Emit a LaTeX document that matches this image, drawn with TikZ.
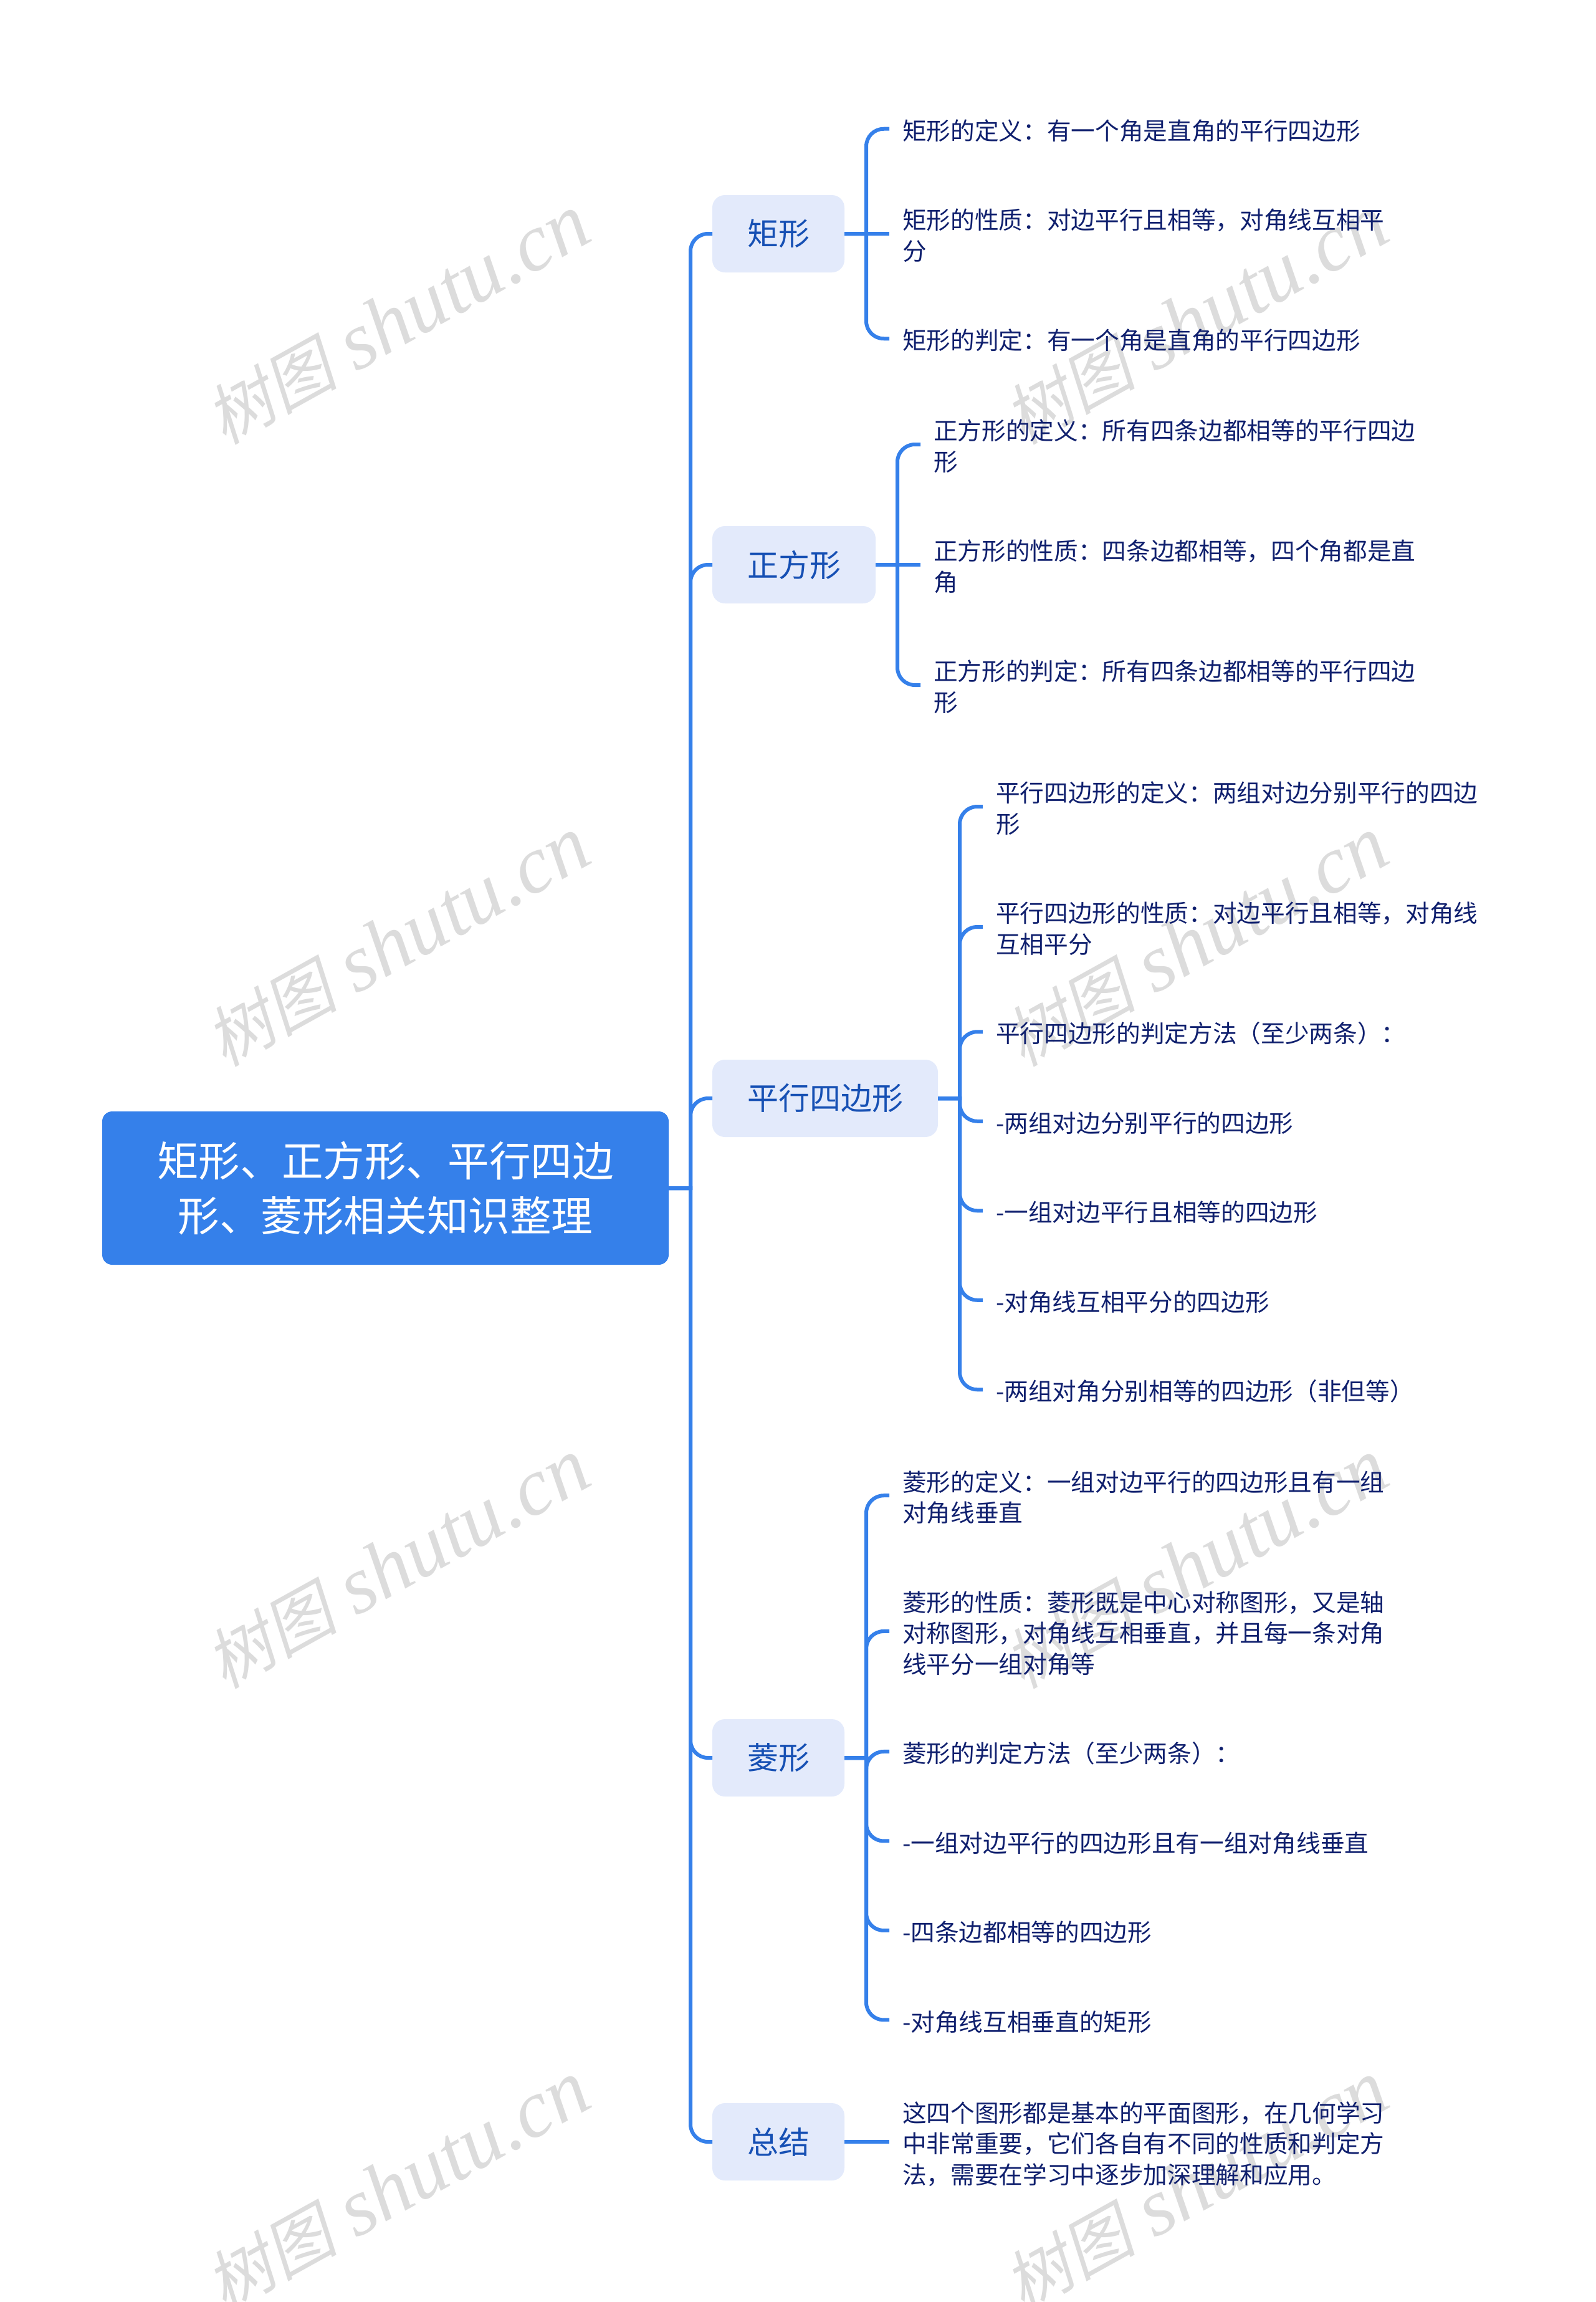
\documentclass[tikz,border=0pt]{standalone}
\usepackage{fontspec}
\setmainfont{Noto Sans CJK SC}
\newfontfamily\wmcjk[FakeSlant=0.2]{Noto Sans CJK SC}
\newfontfamily\wmlat{Liberation Serif}
\usetikzlibrary{positioning}

\definecolor{rootblue}{HTML}{3580EA}
\definecolor{boxblue}{HTML}{E3EAFB}
\definecolor{boxtext}{HTML}{1650B4}
\definecolor{leaftext}{HTML}{10206E}
\definecolor{wmgray}{HTML}{DCDCDC}

\newcommand{\leafstrut}{\leavevmode\vrule height 10.6pt depth 1.775pt width 0pt\relax}
\newcommand{\wmtext}{{\wmcjk\fontsize{26.5pt}{30pt}\selectfont 树图} {\wmlat\itshape shutu.cn}}

\begin{document}
\begin{tikzpicture}[outer sep=0pt,
  root node/.style={rectangle,fill=rootblue,rounded corners=4pt,text=white,align=center,
  font=\fontsize{16.65pt}{22pt}\selectfont,minimum width=227.25pt,minimum height=61.5pt,inner sep=0pt},
  main node/.style={rectangle,fill=boxblue,rounded corners=5pt,text=boxtext,
  font=\fontsize{12.5pt}{15pt}\selectfont,minimum height=31pt,inner xsep=14pt,inner ysep=0pt},
  leaf node/.style={inner sep=0pt,text=leaftext,align=left,text width=210pt,
  font=\fontsize{9.67pt}{12.375pt}\selectfont,
  execute at begin node=\leafstrut,execute at end node=\leafstrut},
  under/.style={below=23.5pt of #1.south west,anchor=north west},
  wm node/.style={text=wmgray,rotate=29,font=\fontsize{32.7pt}{32pt}\selectfont},
  conn/.style={draw=rootblue,line width=1.5pt},
  branch/.style={to path={-- ++(8.75pt,0) [rounded corners=7pt] |- (\tikztotarget)}},
  tip/.style={shorten >=5.25pt}]

  \useasboundingbox (0,0) rectangle (640pt,-923.25pt);
  \clip (0,0) rectangle (640pt,-923.25pt);

  %Watermarks
  \node[wm node] (WA) at (159.5pt,-128.25pt) {\wmtext};
  \node[wm node] (WB) at (479.75pt,-128.25pt) {\wmtext};
  \node[wm node] (WC) at (159.5pt,-377.75pt) {\wmtext};
  \node[wm node] (WD) at (479.75pt,-377.75pt) {\wmtext};
  \node[wm node] (WE) at (159.5pt,-627.25pt) {\wmtext};
  \node[wm node] (WF) at (479.75pt,-627.25pt) {\wmtext};
  \node[wm node] (WG) at (159.5pt,-876.75pt) {\wmtext};
  \node[wm node] (WH) at (479.75pt,-876.75pt) {\wmtext};

  \node[root node,anchor=west] (ROOT) at (41pt,-476.5pt) {矩形、正方形、平行四边\\形、菱形相关知识整理};

  %Second level
  \node[main node] (RECT) [right=17.5pt of ROOT,yshift=382.75pt] {矩形};
  \node[main node] (SQ) [right=17.5pt of ROOT,yshift=250pt] {正方形};
  \node[main node] (PAR) [right=17.5pt of ROOT,yshift=36pt] {平行四边形};
  \node[main node] (RH) [right=17.5pt of ROOT,yshift=-228.5pt] {菱形};
  \node[main node] (SUM) [right=17.5pt of ROOT,yshift=-382.5pt] {总结};

  %Rectangle leaves
  \node[leaf node] (RECTa) [right=23.25pt of RECT,yshift=42.0625pt] {矩形的定义：有一个角是直角的平行四边形};
  \node[leaf node] (RECTb) [under=RECTa] {矩形的性质：对边平行且相等，对角线互相平\\分};
  \node[leaf node] (RECTc) [under=RECTb] {矩形的判定：有一个角是直角的平行四边形};

  %Square leaves
  \node[leaf node] (SQa) [right=23.25pt of SQ,yshift=48.25pt] {正方形的定义：所有四条边都相等的平行四边\\形};
  \node[leaf node] (SQb) [under=SQa] {正方形的性质：四条边都相等，四个角都是直\\角};
  \node[leaf node] (SQc) [under=SQb] {正方形的判定：所有四条边都相等的平行四边\\形};

  %Parallelogram leaves
  \node[leaf node] (PARa) [right=23.25pt of PAR,yshift=117pt] {平行四边形的定义：两组对边分别平行的四边\\形};
  \node[leaf node] (PARb) [under=PARa] {平行四边形的性质：对边平行且相等，对角线\\互相平分};
  \node[leaf node] (PARc) [under=PARb] {平行四边形的判定方法（至少两条）：};
  \node[leaf node] (PARd) [under=PARc] {-两组对边分别平行的四边形};
  \node[leaf node] (PARe) [under=PARd] {-一组对边平行且相等的四边形};
  \node[leaf node] (PARf) [under=PARe] {-对角线互相平分的四边形};
  \node[leaf node] (PARg) [under=PARf] {-两组对角分别相等的四边形（非但等）};

  %Rhombus leaves
  \node[leaf node] (RHa) [right=23.25pt of RH,yshift=105.2pt] {菱形的定义：一组对边平行的四边形且有一组\\对角线垂直};
  \node[leaf node] (RHb) [under=RHa] {菱形的性质：菱形既是中心对称图形，又是轴\\对称图形，对角线互相垂直，并且每一条对角\\线平分一组对角等};
  \node[leaf node] (RHc) [under=RHb] {菱形的判定方法（至少两条）：};
  \node[leaf node] (RHd) [under=RHc] {-一组对边平行的四边形且有一组对角线垂直};
  \node[leaf node] (RHe) [under=RHd] {-四条边都相等的四边形};
  \node[leaf node] (RHf) [under=RHe] {-对角线互相垂直的矩形};

  %Summary leaf
  \node[leaf node] (SUMa) [right=23.25pt of SUM] {这四个图形都是基本的平面图形，在几何学习\\中非常重要，它们各自有不同的性质和判定方\\法，需要在学习中逐步加深理解和应用。};

  \path[conn]
  	%Root to second level
  	(ROOT.east) edge [branch] (RECT.west)
  	(ROOT.east) edge [branch] (SQ.west)
  	(ROOT.east) edge [branch] (PAR.west)
  	(ROOT.east) edge [branch] (RH.west)
  	(ROOT.east) edge [branch] (SUM.west)
  	%Rectangle
  	(RECT.east) edge [branch,tip] (RECTa.west)
  	(RECT.east) edge [tip] (RECTb.west)
  	(RECT.east) edge [branch,tip] (RECTc.west)
  	%Square
  	(SQ.east) edge [branch,tip] (SQa.west)
  	(SQ.east) edge [tip] (SQb.west)
  	(SQ.east) edge [branch,tip] (SQc.west)
  	%Parallelogram
  	(PAR.east) edge [branch,tip] (PARa.west)
  	(PAR.east) edge [branch,tip] (PARb.west)
  	(PAR.east) edge [branch,tip] (PARc.west)
  	(PAR.east) edge [branch,tip] (PARd.west)
  	(PAR.east) edge [branch,tip] (PARe.west)
  	(PAR.east) edge [branch,tip] (PARf.west)
  	(PAR.east) edge [branch,tip] (PARg.west)
  	%Rhombus
  	(RH.east) edge [branch,tip] (RHa.west)
  	(RH.east) edge [branch,tip] (RHb.west)
  	(RH.east) edge [branch,tip] (RHc.west)
  	(RH.east) edge [branch,tip] (RHd.west)
  	(RH.east) edge [branch,tip] (RHe.west)
  	(RH.east) edge [branch,tip] (RHf.west)
  	%Summary
  	(SUM.east) edge [tip] (SUMa.west);

\end{tikzpicture}
\end{document}
